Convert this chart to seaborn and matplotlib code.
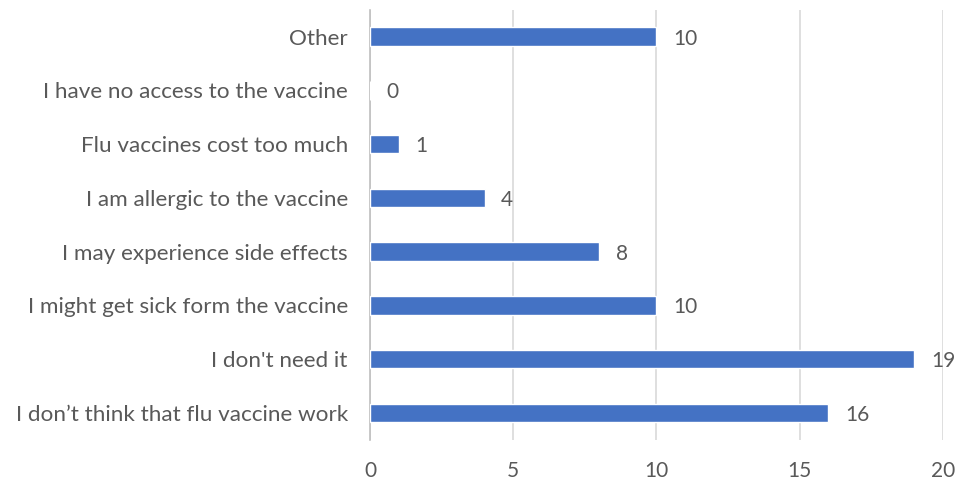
import pandas as pd
import matplotlib
matplotlib.use("Agg")
import matplotlib.pyplot as plt
import seaborn as sns

# data, top to bottom
reasons = [
    "Other",
    "I have no access to the vaccine",
    "Flu vaccines cost too much",
    "I am allergic to the vaccine",
    "I may experience side effects",
    "I might get sick form the vaccine",
    "I don't need it",
    "I don\u2019t think that flu vaccine work",
]
counts = [10, 0, 1, 4, 8, 10, 19, 16]

df = pd.DataFrame({"reason": reasons, "count": counts})

sns.set_theme(style="white")
plt.rcParams["font.family"] = ["Lato", "DejaVu Sans"]

text_col = "#595959"
fig = plt.figure(figsize=(9.61, 4.87), dpi=100)
ax = fig.add_axes([0.385, 0.097, 0.596, 0.883])

sns.barplot(data=df, x="count", y="reason", order=reasons, orient="h",
            color="#4472C4", saturation=1, width=0.34, ax=ax, zorder=3)

# value labels right of each bar
labels = ax.bar_label(ax.containers[0], padding=12, fontsize=15, color=text_col)
for t in labels:
    t.set_va("center_baseline")

ax.set_xlim(0, 20)
ax.set_ylim(7.5, -0.5)
ax.set_xticks([0, 5, 10, 15, 20])
ax.xaxis.grid(True, color="#D9D9D9", linewidth=1.2, zorder=0)
ax.set_xlabel("")
ax.set_ylabel("")
ax.tick_params(axis="x", length=0, labelsize=15, labelcolor=text_col, pad=15)
ax.tick_params(axis="y", length=0, labelsize=16.2, labelcolor=text_col, pad=16)

for s in ["top", "right", "bottom"]:
    ax.spines[s].set_visible(False)
ax.spines["left"].set_color("#BFBFBF")
ax.spines["left"].set_linewidth(1.2)

fig.savefig("out.png", dpi=100)
